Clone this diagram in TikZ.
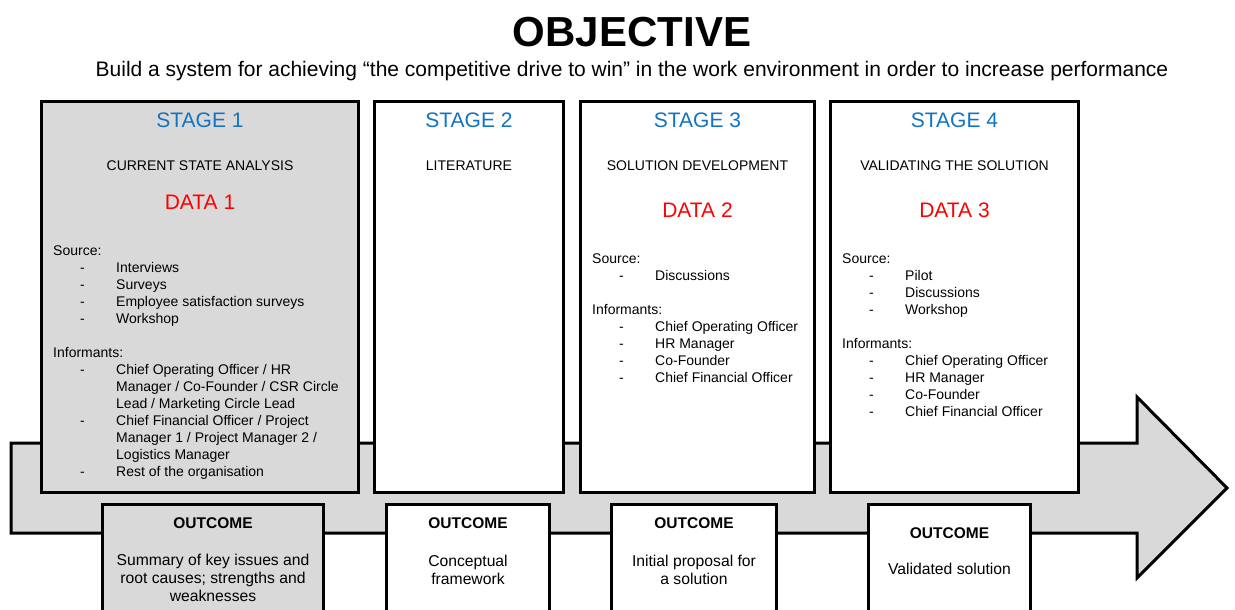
\documentclass[tikz,border=0pt]{standalone}
\usepackage{fontspec}
\setmainfont{Liberation Sans}
\usetikzlibrary{positioning}
\definecolor{stageBlue}{RGB}{17,115,196}
\definecolor{dataRed}{RGB}{255,0,0}
\definecolor{panelGray}{RGB}{217,217,217}

\newcommand{\fs}[2]{\fontsize{#1}{#2}\selectfont}
% list item with a dash, and a wrapped continuation line
\newcommand{\li}[1]{\makebox[63pt][l]{\hspace{27pt}-}#1}
\newcommand{\lc}[1]{\hspace*{63pt}#1}

\begin{document}
\begin{tikzpicture}[
        x=1pt, y=-1pt,
        flow/.style={draw=black, line width=3pt, fill=panelGray},
        stagebox/.style={rectangle, draw=black, line width=3pt, fill=white, anchor=north west, minimum height=391pt, inner sep=0pt},
        outbox/.style={rectangle, draw=black, line width=3pt, fill=white, anchor=north west, minimum height=130pt, inner sep=0pt},
        stagehead/.style={inner sep=0pt, text=stageBlue, font=\fs{21}{25}},
        stagename/.style={inner sep=0pt, font=\fs{14}{17}},
        datahead/.style={inner sep=0pt, text=dataRed, font=\fs{21}{25}},
        listtext/.style={inner sep=0pt, align=left, font=\fs{14}{17}},
        outhead/.style={inner sep=0pt, font=\bfseries\fs{15.5}{18}},
        outtext/.style={inner sep=0pt, align=center, font=\fs{15.7}{18}}
    ]
        \useasboundingbox (0,0) rectangle (1235,610);
        \clip (0,0) rectangle (1235,610);

        % heading
        \node[inner sep=0pt, font=\bfseries\fs{42}{50}] (title) at (632,32) {OBJECTIVE};
        \node[inner sep=0pt, anchor=base, font=\fs{21}{25}] (goal) at (632,77) {Build a system for achieving “the competitive drive to win” in the work environment in order to increase performance};

        % big process arrow behind the stages
        \draw[flow] (11,443) -- (1137,443) -- (1137,397) -- (1227,488) -- (1137,578) -- (1137,533) -- (11,533) -- cycle;

        % stage panels
        \node[stagebox, fill=panelGray, minimum width=317pt] (s1) at (40,100) {};
        \node[stagebox, minimum width=189pt] (s2) at (373,100) {};
        \node[stagebox, minimum width=234pt] (s3) at (579,100) {};
        \node[stagebox, minimum width=248pt] (s4) at (829,100) {};

        % outcome panels
        \node[outbox, fill=panelGray, minimum width=221pt] (o1) at (101,503) {};
        \node[outbox, minimum width=163pt] (o2) at (385,503) {};
        \node[outbox, minimum width=165pt] (o3) at (610,503) {};
        \node[outbox, minimum width=162pt] (o4) at (867,503) {};

        % stage 1
        \node[stagehead, below=13pt of s1.north] (s1head) {STAGE 1};
        \node[stagename, below=61pt of s1.north] (s1name) {CURRENT STATE ANALYSIS};
        \node[datahead, below=95pt of s1.north] (s1data) {DATA 1};
        \node[listtext, below right=146pt and 13pt of s1.north west] (s1list) {Source:\\
            \li{Interviews}\\
            \li{Surveys}\\
            \li{Employee satisfaction surveys}\\
            \li{Workshop}\\[17pt]
            Informants:\\
            \li{Chief Operating Officer / HR}\\
            \lc{Manager / Co-Founder / CSR Circle}\\
            \lc{Lead / Marketing Circle Lead}\\
            \li{Chief Financial Officer / Project}\\
            \lc{Manager 1 / Project Manager 2 /}\\
            \lc{Logistics Manager}\\
            \li{Rest of the organisation}};

        % stage 2
        \node[stagehead, below=13pt of s2.north] (s2head) {STAGE 2};
        \node[stagename, below=61pt of s2.north] (s2name) {LITERATURE};

        % stage 3
        \node[stagehead, below=13pt of s3.north] (s3head) {STAGE 3};
        \node[stagename, below=61pt of s3.north] (s3name) {SOLUTION DEVELOPMENT};
        \node[datahead, below=103pt of s3.north] (s3data) {DATA 2};
        \node[listtext, below right=154pt and 13pt of s3.north west] (s3list) {Source:\\
            \li{Discussions}\\[17pt]
            Informants:\\
            \li{Chief Operating Officer}\\
            \li{HR Manager}\\
            \li{Co-Founder}\\
            \li{Chief Financial Officer}};

        % stage 4
        \node[stagehead, below=13pt of s4.north] (s4head) {STAGE 4};
        \node[stagename, below=61pt of s4.north] (s4name) {VALIDATING THE SOLUTION};
        \node[datahead, below=103pt of s4.north] (s4data) {DATA 3};
        \node[listtext, below right=154pt and 13pt of s4.north west] (s4list) {Source:\\
            \li{Pilot}\\
            \li{Discussions}\\
            \li{Workshop}\\[17pt]
            Informants:\\
            \li{Chief Operating Officer}\\
            \li{HR Manager}\\
            \li{Co-Founder}\\
            \li{Chief Financial Officer}};

        % outcomes
        \node[outhead, below=14pt of o1.north] (o1head) {OUTCOME};
        \node[outtext, below=51pt of o1.north] (o1text) {Summary of key issues and\\ root causes; strengths and\\ weaknesses};
        \node[outhead, below=14pt of o2.north] (o2head) {OUTCOME};
        \node[outtext, below=52pt of o2.north] (o2text) {Conceptual\\ framework};
        \node[outhead, below=14pt of o3.north] (o3head) {OUTCOME};
        \node[outtext, below=52pt of o3.north] (o3text) {Initial proposal for\\ a solution};
        \node[outhead, below=24pt of o4.north] (o4head) {OUTCOME};
        \node[outtext, below=60pt of o4.north] (o4text) {Validated solution};
    \end{tikzpicture}
\end{document}
